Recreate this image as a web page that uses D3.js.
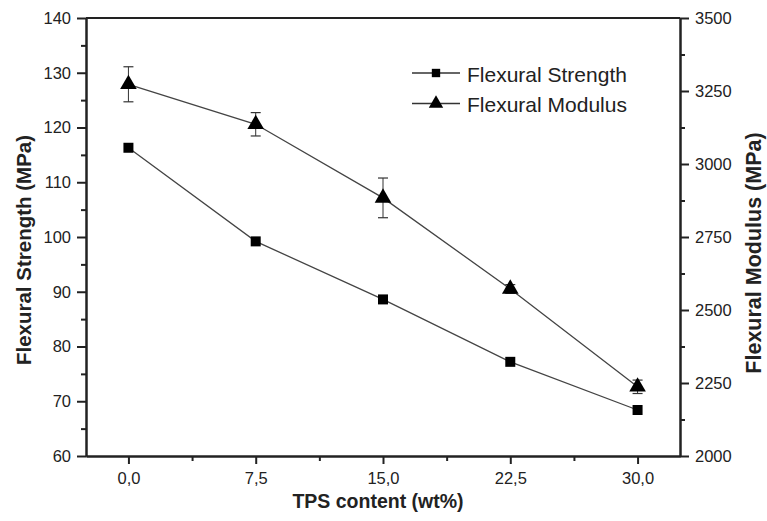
<!DOCTYPE html>
<meta charset="utf-8">
<style>
  body { margin: 0; background: #fff; }
  text { font-family: "Liberation Sans", Arial, sans-serif; fill: #222; }
</style>
<body>
<script src="https://d3js.org/d3.v7.min.js"></script>
<script>

// data
var tpsContent = [0, 7.5, 15, 22.5, 30];
var strength = [116.3, 99.2, 88.6, 77.2, 68.4];
var modulus = [3273, 3136, 2884, 2572, 2237];
var modulusErr = [60, 40, 68, 15, 23];
var xTicks = [0, 7.5, 15, 22.5, 30];
var leftTicks = [60, 70, 80, 90, 100, 110, 120, 130, 140];
var rightTicks = [2000, 2250, 2500, 2750, 3000, 3250, 3500];

var margin = {top: 18, right: 87, bottom: 65, left: 86},
    width = 767 - margin.left - margin.right,
    height = 521 - margin.top - margin.bottom;

var svg = d3.select("body").append("svg")
    .attr("width", 767)
    .attr("height", 521);

var g = svg.append("g")
    .attr("transform", "translate(" + margin.left + "," + margin.top + ")");

var x = d3.scaleLinear().domain([-2.5, 32.5]).range([0, width]);
var yL = d3.scaleLinear().domain([60, 140]).range([height, 0]);
var yR = d3.scaleLinear().domain([2000, 3500]).range([height, 0]);

var fmt = function(d) { return d3.format(".1f")(d).replace(".", ","); };

function styleAxis(sel) {
  sel.select(".domain").attr("stroke", "#222").attr("stroke-width", 2);
  sel.selectAll(".tick line").attr("stroke", "#222").attr("stroke-width", 2);
  sel.selectAll(".tick text").style("font-size", "16.5px").attr("fill", "#222");
}

// major + minor ticks
var xAxis = g.append("g").attr("transform", "translate(0," + height + ")")
  .call(d3.axisBottom(x).tickValues(xTicks).tickFormat(fmt).tickSize(8).tickPadding(8).tickSizeOuter(0));
g.append("g").attr("transform", "translate(0," + height + ")")
  .call(d3.axisBottom(x).tickValues(xTicks.map(function(d){ return d + 3.75; }).filter(function(d){ return d < 32.5; })).tickFormat("").tickSize(5).tickSizeOuter(0))
  .call(styleAxis);
xAxis.call(styleAxis);

var lAxis = g.append("g")
  .call(d3.axisLeft(yL).tickValues(leftTicks).tickSize(9).tickPadding(6).tickSizeOuter(0));
g.append("g")
  .call(d3.axisLeft(yL).tickValues(d3.range(65, 140, 10)).tickFormat("").tickSize(5).tickSizeOuter(0))
  .call(styleAxis);
lAxis.call(styleAxis);

var rAxis = g.append("g").attr("transform", "translate(" + width + ",0)")
  .call(d3.axisRight(yR).tickValues(rightTicks).tickFormat(d3.format("d")).tickSize(9).tickPadding(6).tickSizeOuter(0));
g.append("g").attr("transform", "translate(" + width + ",0)")
  .call(d3.axisRight(yR).tickValues(d3.range(2125, 3500, 250)).tickFormat("").tickSize(5).tickSizeOuter(0))
  .call(styleAxis);
rAxis.call(styleAxis);

// top frame line
g.append("line").attr("x1", 0).attr("x2", width).attr("y1", 0).attr("y2", 0)
  .attr("stroke", "#222").attr("stroke-width", 2);

// lines
var lineL = d3.line().x(function(d, i){ return x(tpsContent[i]); }).y(function(d){ return yL(d); });
var lineR = d3.line().x(function(d, i){ return x(tpsContent[i]); }).y(function(d){ return yR(d); });

g.append("path").attr("d", lineL(strength))
  .attr("fill", "none").attr("stroke", "#444").attr("stroke-width", 1.3);
g.append("path").attr("d", lineR(modulus))
  .attr("fill", "none").attr("stroke", "#444").attr("stroke-width", 1.3);

// error bars for modulus
var eb = g.selectAll(".err").data(modulus).enter().append("g").attr("class", "err");
eb.append("line")
  .attr("x1", function(d, i){ return x(tpsContent[i]); })
  .attr("x2", function(d, i){ return x(tpsContent[i]); })
  .attr("y1", function(d, i){ return yR(d + modulusErr[i]); })
  .attr("y2", function(d, i){ return yR(d - modulusErr[i]); })
  .attr("stroke", "#333").attr("stroke-width", 1);
[1, -1].forEach(function(s) {
  eb.append("line")
    .attr("x1", function(d, i){ return x(tpsContent[i]) - 5; })
    .attr("x2", function(d, i){ return x(tpsContent[i]) + 5; })
    .attr("y1", function(d, i){ return yR(d + s * modulusErr[i]); })
    .attr("y2", function(d, i){ return yR(d + s * modulusErr[i]); })
    .attr("stroke", "#333").attr("stroke-width", 1.2);
});

// markers
var sq = d3.symbol().type(d3.symbolSquare).size(100);
var tri = d3.symbol().type(d3.symbolTriangle).size(120);

g.selectAll(".sq").data(strength).enter().append("path")
  .attr("d", sq)
  .attr("transform", function(d, i){ return "translate(" + x(tpsContent[i]) + "," + yL(d) + ")"; })
  .attr("fill", "#000");
g.selectAll(".tri").data(modulus).enter().append("path")
  .attr("d", tri)
  .attr("transform", function(d, i){ return "translate(" + x(tpsContent[i]) + "," + yR(d) + ")"; })
  .attr("fill", "#000");

// legend
var legend = [{name: "Flexural Strength", sym: d3.symbol().type(d3.symbolSquare).size(70)},
              {name: "Flexural Modulus", sym: d3.symbol().type(d3.symbolTriangle).size(90)}];
var lg = svg.selectAll(".lg").data(legend).enter().append("g")
  .attr("transform", function(d, i){ return "translate(412," + (73 + i * 30.5) + ")"; });
lg.append("line").attr("x1", 0).attr("x2", 48).attr("stroke", "#333").attr("stroke-width", 1.3);
lg.append("path").attr("d", function(d){ return d.sym(); }).attr("transform", "translate(24,0)").attr("fill", "#000");
lg.append("text").attr("x", 55).attr("y", 8.5).style("font-size", "21px").text(function(d){ return d.name; });

// axis titles
svg.append("text")
  .attr("transform", "translate(31,250) rotate(-90)")
  .attr("text-anchor", "middle").style("font-size", "20.5px").style("font-weight", "bold")
  .text("Flexural Strength (MPa)");
svg.append("text")
  .attr("transform", "translate(761,253) rotate(-90)")
  .attr("text-anchor", "middle").style("font-size", "21.5px").style("font-weight", "bold")
  .text("Flexural Modulus (MPa)");
svg.append("text")
  .attr("x", 378).attr("y", 508)
  .attr("text-anchor", "middle").style("font-size", "19.5px").style("font-weight", "bold")
  .text("TPS content (wt%)");

</script>
</body>
